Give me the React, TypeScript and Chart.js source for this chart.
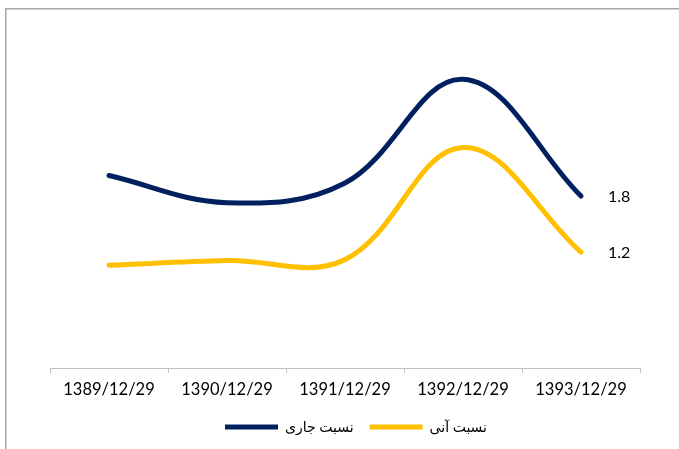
import React, { useEffect, useRef } from "react";
import { Chart, registerables } from "chart.js";

Chart.register(...registerables);

const categories = ["1389/12/29", "1390/12/29", "1391/12/29", "1392/12/29", "1393/12/29"];
const currentRatio = [2.06, 1.77, 1.98, 3.09, 1.84];
const quickRatio = [1.1, 1.15, 1.16, 2.36, 1.24];
const seriesNames = ["نسبت جاری", "نسبت آنی"];
const seriesColors = ["#002060", "#FFC000"];

const FONT = "Lato, 'DejaVu Sans', sans-serif";

const framePlugin = {
  id: "frame",
  beforeDraw(chart: any) {
    const ctx = chart.ctx;
    ctx.save();
    ctx.strokeStyle = "#a6a6a6";
    ctx.lineWidth = 1.5;
    ctx.beginPath();
    ctx.moveTo(5.75, chart.height);
    ctx.lineTo(5.75, 8.75);
    ctx.lineTo(chart.width, 8.75);
    ctx.stroke();
    ctx.restore();
  },
};

const legendShiftPlugin = {
  id: "legendShift",
  afterLayout(chart: any) {
    if (chart.legend) {
      chart.legend.left += 11;
      chart.legend.right += 11;
    }
  },
};

const lastLabelPlugin = {
  id: "lastLabel",
  afterDatasetsDraw(chart: any) {
    const ctx = chart.ctx;
    ctx.save();
    ctx.font = `16px ${FONT}`;
    ctx.fillStyle = "#000";
    ctx.textAlign = "left";
    ctx.textBaseline = "middle";
    chart.data.datasets.forEach((ds: any, i: number) => {
      const meta = chart.getDatasetMeta(i);
      const last = meta.data[meta.data.length - 1];
      const v = ds.data[ds.data.length - 1];
      ctx.fillText(Number(v).toFixed(1), last.x + 27, last.y + 1);
    });
    ctx.restore();
  },
};

export default function App() {
  const ref = useRef<HTMLCanvasElement | null>(null);
  useEffect(() => {
    document.body.style.margin = "0";
    const chart = new Chart(ref.current as HTMLCanvasElement, {
      type: "line",
      data: {
        labels: categories,
        datasets: [
          {
            label: seriesNames[0],
            data: currentRatio,
            borderColor: seriesColors[0],
            backgroundColor: seriesColors[0],
            borderWidth: 5,
            borderCapStyle: "round",
            pointRadius: 0,
            tension: 0.38,
            fill: false,
          },
          {
            label: seriesNames[1],
            data: quickRatio,
            borderColor: seriesColors[1],
            backgroundColor: seriesColors[1],
            borderWidth: 5,
            borderCapStyle: "round",
            pointRadius: 0,
            tension: 0.38,
            fill: false,
          },
        ],
      },
      options: {
        responsive: false,
        animation: false,
        layout: { padding: { left: 50, right: 39, top: 41, bottom: 5 } },
        plugins: {
          tooltip: { enabled: false },
          legend: {
            position: "bottom",
            labels: {
              usePointStyle: true,
              pointStyle: "line",
              pointStyleWidth: 53,
              boxWidth: 53,
              boxHeight: 5,
              padding: 16,
              color: "#000",
              font: { family: FONT, size: 14 },
            },
          },
        },
        scales: {
          y: { display: false, min: 0, max: 3.5 },
          x: {
            offset: true,
            afterFit: (scale: any) => {
              scale.height = 36;
            },
            grid: {
              offset: true,
              drawOnChartArea: false,
              drawTicks: true,
              tickLength: 5,
              color: "#bfbfbf",
            },
            border: { display: true, color: "#bfbfbf", width: 1 },
            ticks: {
              color: "#000",
              padding: 7,
              maxRotation: 0,
              autoSkip: false,
              font: { family: FONT, size: 16.5 },
            },
          },
        },
      },
      plugins: [framePlugin, legendShiftPlugin, lastLabelPlugin],
    } as any);
    return () => chart.destroy();
  }, []);
  return (
    <div style={{ position: "absolute", left: 0, top: 0 }}>
      <canvas ref={ref} width={679} height={449} style={{ width: 679, height: 449, display: "block" }} />
    </div>
  );
}
